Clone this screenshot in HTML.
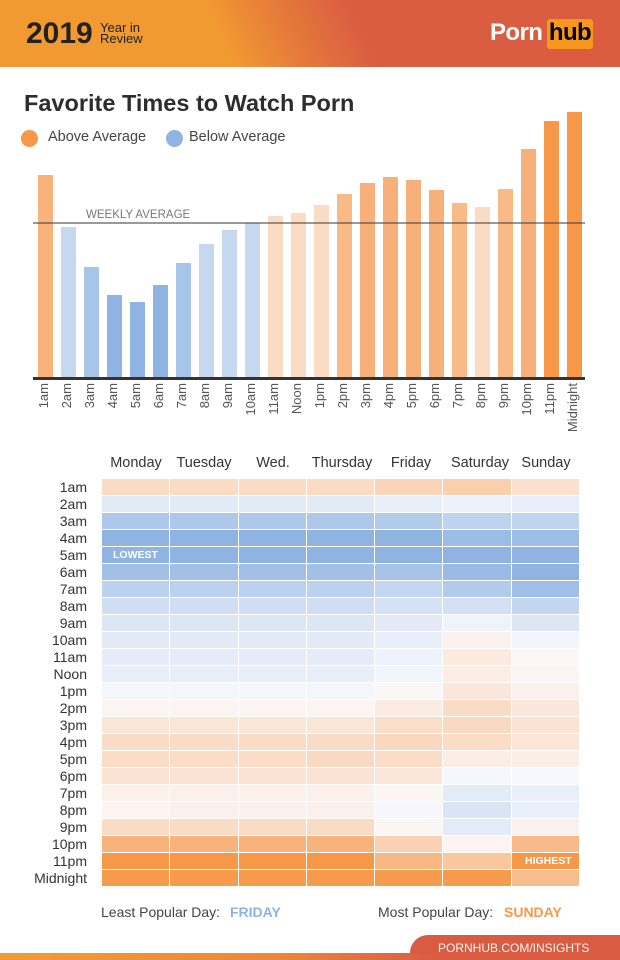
<!DOCTYPE html>
<html>
<head>
<meta charset="utf-8">
<style>
*{margin:0;padding:0;box-sizing:border-box;}
html,body{width:620px;height:960px;background:#fff;overflow:hidden;}
body{position:relative;font-family:"Liberation Sans",Arial,sans-serif;color:#333;}
.abs{position:absolute;white-space:nowrap;}
#hdr{position:absolute;left:0;top:0;width:620px;height:67px;
 background:linear-gradient(65deg,#f29a32 0%,#f29a32 36%,#e57a3a 47%,#da5d42 58%,#da5d42 100%);}
.bar{position:absolute;width:15px;}
.xl{position:absolute;top:383px;width:15px;font-size:13px;line-height:15px;color:#555;
 writing-mode:vertical-rl;transform:rotate(180deg);white-space:nowrap;}
#grid{position:absolute;left:102px;top:479px;width:477px;height:407px;display:grid;
 grid-template-columns:repeat(7,1fr);grid-template-rows:repeat(24,16px);gap:1px;background:#fff;}
.rl{position:absolute;right:533px;font-size:14px;line-height:16px;color:#333;text-align:right;white-space:nowrap;}
.dh{position:absolute;top:455.7px;width:68px;text-align:center;font-size:14.5px;line-height:14.5px;color:#333;}
</style>
</head>
<body>
<div id="hdr"></div>
<div class="abs" style="left:26px;top:18.6px;font-size:30px;line-height:30px;font-weight:bold;color:#222;">2019</div>
<div class="abs" style="left:100px;top:20.7px;font-size:13px;line-height:13px;color:#222;">Year in</div>
<div class="abs" style="left:100px;top:32.3px;font-size:13px;line-height:13px;color:#222;">Review</div>
<div class="abs" style="left:490px;top:20.7px;font-size:24px;line-height:24px;font-weight:bold;color:#fff;letter-spacing:-0.6px;">Porn</div>
<div class="abs" style="left:547px;top:19px;width:46px;height:30px;background:#f7971d;border-radius:3px;"></div>
<div class="abs" style="left:547px;top:20.7px;width:46px;text-align:center;font-size:24px;line-height:24px;font-weight:bold;color:#000;letter-spacing:-0.6px;">hub</div>

<div class="abs" style="left:24px;top:92px;font-size:23.5px;line-height:23.5px;font-weight:bold;color:#2d2d2d;">Favorite Times to Watch Porn</div>
<div class="abs" style="left:21px;top:130px;width:17px;height:17px;border-radius:50%;background:#f69848;"></div>
<div class="abs" style="left:48px;top:130.4px;font-size:14.5px;line-height:14.5px;color:#444;">Above Average</div>
<div class="abs" style="left:166px;top:130px;width:17px;height:17px;border-radius:50%;background:#8fb3e2;"></div>
<div class="abs" style="left:189px;top:130.4px;font-size:14.5px;line-height:14.5px;color:#444;">Below Average</div>

<!-- bars -->
<div class="bar" style="left:38px;top:175px;height:203px;background:#f8b27a;"></div>
<div class="bar" style="left:61px;top:227px;height:151px;background:#c6d8f0;"></div>
<div class="bar" style="left:84px;top:267px;height:111px;background:#a7c4e9;"></div>
<div class="bar" style="left:107px;top:295px;height:83px;background:#8fb3e2;"></div>
<div class="bar" style="left:130px;top:302px;height:76px;background:#8fb3e2;"></div>
<div class="bar" style="left:153px;top:285px;height:93px;background:#8fb3e2;"></div>
<div class="bar" style="left:176px;top:263px;height:115px;background:#a7c4e9;"></div>
<div class="bar" style="left:199px;top:244px;height:134px;background:#c6d8f0;"></div>
<div class="bar" style="left:222px;top:230px;height:148px;background:#c6d8f0;"></div>
<div class="bar" style="left:245px;top:223px;height:155px;background:#c6d8f0;"></div>
<div class="bar" style="left:268px;top:216px;height:162px;background:#fadcc4;"></div>
<div class="bar" style="left:291px;top:213px;height:165px;background:#fadcc4;"></div>
<div class="bar" style="left:314px;top:205px;height:173px;background:#fadcc4;"></div>
<div class="bar" style="left:337px;top:194px;height:184px;background:#f8bb88;"></div>
<div class="bar" style="left:360px;top:183px;height:195px;background:#f7b079;"></div>
<div class="bar" style="left:383px;top:177px;height:201px;background:#f7b079;"></div>
<div class="bar" style="left:406px;top:180px;height:198px;background:#f7b079;"></div>
<div class="bar" style="left:429px;top:190px;height:188px;background:#f7b079;"></div>
<div class="bar" style="left:452px;top:203px;height:175px;background:#f8bb88;"></div>
<div class="bar" style="left:475px;top:207px;height:171px;background:#fadcc4;"></div>
<div class="bar" style="left:498px;top:189px;height:189px;background:#f8bb88;"></div>
<div class="bar" style="left:521px;top:149px;height:229px;background:#f7b079;"></div>
<div class="bar" style="left:544px;top:121px;height:257px;background:#f69848;"></div>
<div class="bar" style="left:567px;top:112px;height:266px;background:#f69848;"></div>

<div class="abs" style="left:86px;top:209.6px;font-size:11.5px;line-height:11.5px;color:#777;">WEEKLY AVERAGE</div>
<div class="abs" style="left:33px;top:221.7px;width:552px;height:2px;background:rgba(70,70,70,0.55);"></div>
<div class="abs" style="left:33px;top:377px;width:552px;height:3px;background:#333;"></div>

<!-- x labels -->
<div class="xl" style="left:36px;">1am</div>
<div class="xl" style="left:59px;">2am</div>
<div class="xl" style="left:82px;">3am</div>
<div class="xl" style="left:105px;">4am</div>
<div class="xl" style="left:128px;">5am</div>
<div class="xl" style="left:151px;">6am</div>
<div class="xl" style="left:174px;">7am</div>
<div class="xl" style="left:197px;">8am</div>
<div class="xl" style="left:220px;">9am</div>
<div class="xl" style="left:243px;">10am</div>
<div class="xl" style="left:266px;">11am</div>
<div class="xl" style="left:289px;">Noon</div>
<div class="xl" style="left:312px;">1pm</div>
<div class="xl" style="left:335px;">2pm</div>
<div class="xl" style="left:358px;">3pm</div>
<div class="xl" style="left:381px;">4pm</div>
<div class="xl" style="left:404px;">5pm</div>
<div class="xl" style="left:427px;">6pm</div>
<div class="xl" style="left:450px;">7pm</div>
<div class="xl" style="left:473px;">8pm</div>
<div class="xl" style="left:496px;">9pm</div>
<div class="xl" style="left:519px;">10pm</div>
<div class="xl" style="left:542px;">11pm</div>
<div class="xl" style="left:565px;">Midnight</div>

<!-- heatmap headers -->
<div class="dh" style="left:102px;">Monday</div>
<div class="dh" style="left:170px;">Tuesday</div>
<div class="dh" style="left:239px;">Wed.</div>
<div class="dh" style="left:308px;">Thursday</div>
<div class="dh" style="left:377px;">Friday</div>
<div class="dh" style="left:446px;">Saturday</div>
<div class="dh" style="left:512px;">Sunday</div>

<!-- row labels -->
<div class="rl" style="top:479px;">1am</div>
<div class="rl" style="top:496px;">2am</div>
<div class="rl" style="top:513px;">3am</div>
<div class="rl" style="top:530px;">4am</div>
<div class="rl" style="top:547px;">5am</div>
<div class="rl" style="top:564px;">6am</div>
<div class="rl" style="top:581px;">7am</div>
<div class="rl" style="top:598px;">8am</div>
<div class="rl" style="top:615px;">9am</div>
<div class="rl" style="top:632px;">10am</div>
<div class="rl" style="top:649px;">11am</div>
<div class="rl" style="top:666px;">Noon</div>
<div class="rl" style="top:683px;">1pm</div>
<div class="rl" style="top:700px;">2pm</div>
<div class="rl" style="top:717px;">3pm</div>
<div class="rl" style="top:734px;">4pm</div>
<div class="rl" style="top:751px;">5pm</div>
<div class="rl" style="top:768px;">6pm</div>
<div class="rl" style="top:785px;">7pm</div>
<div class="rl" style="top:802px;">8pm</div>
<div class="rl" style="top:819px;">9pm</div>
<div class="rl" style="top:836px;">10pm</div>
<div class="rl" style="top:853px;">11pm</div>
<div class="rl" style="top:870px;">Midnight</div>

<div id="grid">
<!-- 1am -->
<div style="background:#fadcc5"></div><div style="background:#fadcc5"></div><div style="background:#fadcc5"></div><div style="background:#fadcc5"></div><div style="background:#f9d4b6"></div><div style="background:#f9cfac"></div><div style="background:#fae0cd"></div>
<!-- 2am -->
<div style="background:#e2eaf6"></div><div style="background:#e2eaf6"></div><div style="background:#e2eaf6"></div><div style="background:#e2eaf6"></div><div style="background:#e8eef8"></div><div style="background:#ecf1fa"></div><div style="background:#e7eef8"></div>
<!-- 3am -->
<div style="background:#adc8ea"></div><div style="background:#adc8ea"></div><div style="background:#adc8ea"></div><div style="background:#adc8ea"></div><div style="background:#b1cbeb"></div><div style="background:#bdd3ef"></div><div style="background:#bfd4ef"></div>
<!-- 4am -->
<div style="background:#8fb4e2"></div><div style="background:#8fb4e2"></div><div style="background:#8fb4e2"></div><div style="background:#8fb4e2"></div><div style="background:#8fb4e2"></div><div style="background:#9abce5"></div><div style="background:#9dbee6"></div>
<!-- 5am -->
<div style="background:#8fb3e2"></div><div style="background:#8fb3e2"></div><div style="background:#8fb3e2"></div><div style="background:#8fb3e2"></div><div style="background:#8fb3e2"></div><div style="background:#8fb3e2"></div><div style="background:#8fb3e2"></div>
<!-- 6am -->
<div style="background:#a2c0e6"></div><div style="background:#a2c0e6"></div><div style="background:#a2c0e6"></div><div style="background:#a2c0e6"></div><div style="background:#a7c4e8"></div><div style="background:#99bbe5"></div><div style="background:#8fb4e2"></div>
<!-- 7am -->
<div style="background:#bcd1ee"></div><div style="background:#bcd1ee"></div><div style="background:#bcd1ee"></div><div style="background:#bcd1ee"></div><div style="background:#c3d7f0"></div><div style="background:#b2cbeb"></div><div style="background:#a0bfe6"></div>
<!-- 8am -->
<div style="background:#d0def3"></div><div style="background:#d0def3"></div><div style="background:#d0def3"></div><div style="background:#d0def3"></div><div style="background:#d5e1f4"></div><div style="background:#d3e0f3"></div><div style="background:#c3d6f0"></div>
<!-- 9am -->
<div style="background:#dce6f5"></div><div style="background:#dce6f5"></div><div style="background:#dce6f5"></div><div style="background:#dce6f5"></div><div style="background:#e3eaf6"></div><div style="background:#eff3fb"></div><div style="background:#dce6f5"></div>
<!-- 10am -->
<div style="background:#e2eaf6"></div><div style="background:#e2eaf6"></div><div style="background:#e2eaf6"></div><div style="background:#e2eaf6"></div><div style="background:#e9eff9"></div><div style="background:#fbf1ed"></div><div style="background:#f2f5fc"></div>
<!-- 11am -->
<div style="background:#e5ecf7"></div><div style="background:#e5ecf7"></div><div style="background:#e5ecf7"></div><div style="background:#e5ecf7"></div><div style="background:#eef2fa"></div><div style="background:#fbeadf"></div><div style="background:#fbf7f7"></div>
<!-- Noon -->
<div style="background:#e7eef8"></div><div style="background:#e7eef8"></div><div style="background:#e7eef8"></div><div style="background:#e7eef8"></div><div style="background:#f1f5fc"></div><div style="background:#fbede4"></div><div style="background:#fbf4f2"></div>
<!-- 1pm -->
<div style="background:#f3f6fc"></div><div style="background:#f3f6fc"></div><div style="background:#f3f6fc"></div><div style="background:#f3f6fc"></div><div style="background:#f9f8f7"></div><div style="background:#fbe6da"></div><div style="background:#fbf1ec"></div>
<!-- 2pm -->
<div style="background:#fbf5f2"></div><div style="background:#fbf5f2"></div><div style="background:#fbf5f2"></div><div style="background:#fbf5f2"></div><div style="background:#fbebe0"></div><div style="background:#fadbc5"></div><div style="background:#fae6da"></div>
<!-- 3pm -->
<div style="background:#fae6d9"></div><div style="background:#fae6d9"></div><div style="background:#fae6d9"></div><div style="background:#fae6d9"></div><div style="background:#fadec9"></div><div style="background:#f9d9c1"></div><div style="background:#fae3d2"></div>
<!-- 4pm -->
<div style="background:#fadcc6"></div><div style="background:#fadcc6"></div><div style="background:#fadcc6"></div><div style="background:#fadcc6"></div><div style="background:#f9d7bd"></div><div style="background:#fadcc7"></div><div style="background:#fae5d7"></div>
<!-- 5pm -->
<div style="background:#fadcc7"></div><div style="background:#fadcc7"></div><div style="background:#fadcc7"></div><div style="background:#f9d9c2"></div><div style="background:#fadcc7"></div><div style="background:#fbece4"></div><div style="background:#fbeee7"></div>
<!-- 6pm -->
<div style="background:#fae3d3"></div><div style="background:#fae3d3"></div><div style="background:#fae3d3"></div><div style="background:#fae3d3"></div><div style="background:#fae7db"></div><div style="background:#f5f7fc"></div><div style="background:#f6f8fd"></div>
<!-- 7pm -->
<div style="background:#fbf0ea"></div><div style="background:#fbf0ea"></div><div style="background:#fbf0ea"></div><div style="background:#fbf0ea"></div><div style="background:#fbf5f3"></div><div style="background:#e3ebf7"></div><div style="background:#e9f0fa"></div>
<!-- 8pm -->
<div style="background:#fbf4f1"></div><div style="background:#fbf1ec"></div><div style="background:#fbf1ec"></div><div style="background:#fbf1ec"></div><div style="background:#f5f7fc"></div><div style="background:#d9e5f5"></div><div style="background:#e9f0fa"></div>
<!-- 9pm -->
<div style="background:#fadcc6"></div><div style="background:#fadcc6"></div><div style="background:#fadcc6"></div><div style="background:#fadcc6"></div><div style="background:#fbf6f3"></div><div style="background:#e3ebf7"></div><div style="background:#fbf1ec"></div>
<!-- 10pm -->
<div style="background:#f8b27b"></div><div style="background:#f8b27b"></div><div style="background:#f8b27b"></div><div style="background:#f8b27b"></div><div style="background:#fad2b3"></div><div style="background:#fdf3f1"></div><div style="background:#f8ba88"></div>
<!-- 11pm -->
<div style="background:#f69848"></div><div style="background:#f69848"></div><div style="background:#f69848"></div><div style="background:#f69848"></div><div style="background:#f8b884"></div><div style="background:#f9c69d"></div><div style="background:#f69848"></div>
<!-- Midnight -->
<div style="background:#f69b4e"></div><div style="background:#f69b4e"></div><div style="background:#f69b4e"></div><div style="background:#f69b4e"></div><div style="background:#f69b4e"></div><div style="background:#f69b4e"></div><div style="background:#f8bd8e"></div>
</div>

<div class="abs" style="left:113px;top:550.4px;font-size:10.5px;line-height:10.5px;font-weight:bold;color:#fff;">LOWEST</div>
<div class="abs" style="left:525px;top:856.4px;font-size:10.5px;line-height:10.5px;font-weight:bold;color:#fff;">HIGHEST</div>

<!-- footer -->
<div class="abs" style="left:101px;top:905px;font-size:14px;line-height:14px;color:#444;">Least Popular Day:</div>
<div class="abs" style="left:230px;top:905px;font-size:14px;line-height:14px;font-weight:bold;color:#8db3e2;">FRIDAY</div>
<div class="abs" style="left:378px;top:905px;font-size:14px;line-height:14px;color:#444;">Most Popular Day:</div>
<div class="abs" style="left:504px;top:905px;font-size:14px;line-height:14px;font-weight:bold;color:#f69848;">SUNDAY</div>

<div class="abs" style="left:0;top:953px;width:620px;height:7px;background:linear-gradient(90deg,#f39b33 0%,#ec873a 45%,#da5d42 70%,#da5d42 100%);"></div>
<div class="abs" style="left:410px;top:935px;width:210px;height:19px;background:#d95c42;border-top-left-radius:18px 18px;"></div>
<div class="abs" style="left:438px;top:941.8px;font-size:12px;line-height:12px;color:rgba(255,255,255,0.92);">PORNHUB.COM/INSIGHTS</div>
</body>
</html>
